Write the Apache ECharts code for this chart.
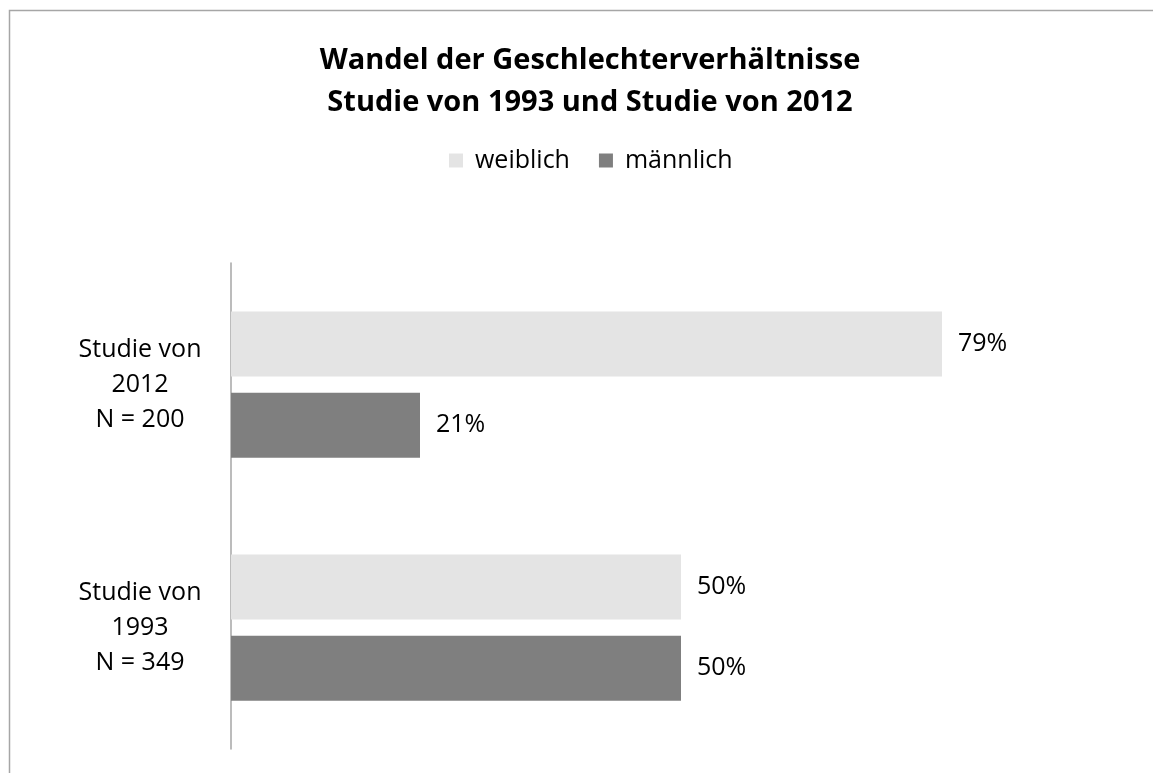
<!DOCTYPE html>
<html>
<head>
<meta charset="utf-8">
<script src="https://cdn.jsdelivr.net/npm/echarts@6/dist/echarts.min.js"></script>
<style>
html,body{margin:0;padding:0;background:#fff;}
#c{width:1153px;height:773px;}
</style>
</head>
<body>
<div id="c"></div>
<script>
const categories = ["Studie von\n2012\nN = 200", "Studie von\n1993\nN = 349"];
const seriesNames = ["weiblich", "männlich"];
const weiblich = [0.79, 0.50];
const maennlich = [0.21, 0.50];
const titleText = "Wandel der Geschlechterverhältnisse\nStudie von 1993 und Studie von 2012";

const FONT = "'Open Sans', 'Noto Sans', sans-serif";
const chart = echarts.init(document.getElementById('c'), null, {renderer: 'canvas'});
const labelFmt = p => Math.round(p.value * 100) + '%';
chart.setOption({
  backgroundColor: '#ffffff',
  animation: false,
  graphic: [{
    type: 'rect', left: 7, top: 8, silent: true,
    shape: {width: 1300, height: 900},
    style: {fill: 'none', stroke: '#a6a6a6', lineWidth: 1.5},
    z: -1
  }],
  title: {
    text: titleText,
    left: 585, top: 35, textAlign: 'center',
    textStyle: {fontFamily: FONT, fontSize: 29, fontWeight: 'bold', color: '#000', lineHeight: 42}
  },
  legend: {
    data: seriesNames,
    left: 444, top: 143,
    itemWidth: 14, itemHeight: 14, itemGap: 29,
    icon: 'rect',
    textStyle: {fontFamily: FONT, fontSize: 25, color: '#000', padding: [0, 0, 0, 7]}
  },
  grid: {left: 231, right: 22, top: 263, bottom: 24, containLabel: false},
  xAxis: {
    type: 'value', min: 0, max: 1,
    show: false
  },
  yAxis: {
    type: 'category', data: categories, inverse: true,
    axisLine: {show: true, lineStyle: {color: '#a6a6a6', width: 1.5}},
    axisTick: {show: false},
    axisLabel: {
      fontFamily: FONT, fontSize: 25, color: '#000', lineHeight: 35,
      align: 'center', margin: 91
    }
  },
  series: [
    {
      name: seriesNames[0], type: 'bar', data: weiblich,
      barWidth: 65, barGap: '25%',
      itemStyle: {color: '#e4e4e4'},
      label: {show: true, position: 'right', distance: 16, formatter: labelFmt,
        fontFamily: FONT, fontSize: 25, color: '#000'}
    },
    {
      name: seriesNames[1], type: 'bar', data: maennlich,
      barWidth: 65, barGap: '25%',
      itemStyle: {color: '#7f7f7f'},
      label: {show: true, position: 'right', distance: 16, formatter: labelFmt,
        fontFamily: FONT, fontSize: 25, color: '#000'}
    }
  ]
});
</script>
</body>
</html>
